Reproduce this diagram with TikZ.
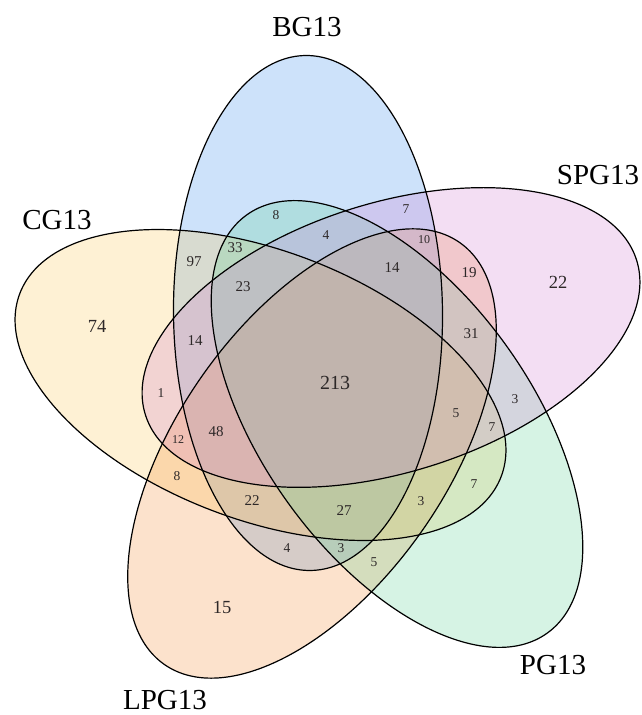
\documentclass[tikz,border=0pt]{standalone}
\usepackage{fontspec}
\setmainfont{Liberation Serif}
\definecolor{cBG}{RGB}{55,139,235}
\definecolor{cSPG}{RGB}{207,123,207}
\definecolor{cPG}{RGB}{91,207,147}
\definecolor{cLPG}{RGB}{243,139,51}
\definecolor{cCG}{RGB}{251,199,83}
\definecolor{numc}{RGB}{45,40,40}
\begin{document}
\begin{tikzpicture}[x=1pt,y=1pt,
  setfill/.style={fill=#1, fill opacity=0.25},
  setline/.style={draw=black, line width=1.2pt},
  numXL/.style={text=numc, inner sep=0pt, font=\fontsize{20}{22}\selectfont},
  numL/.style={text=numc, inner sep=0pt, font=\fontsize{18.5}{20}\selectfont},
  numM/.style={text=numc, inner sep=0pt, font=\fontsize{15}{17}\selectfont},
  numS/.style={text=numc, inner sep=0pt, font=\fontsize{13.5}{15}\selectfont},
  numXS/.style={text=numc, inner sep=0pt, font=\fontsize{12}{14}\selectfont},
  setlabel/.style={text=black, inner sep=0pt, font=\fontsize{29}{31}\selectfont}]
\useasboundingbox (0,0) rectangle (642,715);
\def\ea{257.5}\def\eb{134.5}
% fills (drawing order chosen to match the blended colours)
\fill[setfill=cBG, rotate around={90.5:(308,402)}] (308,402) ellipse [x radius=\ea, y radius=\eb];
\fill[setfill=cCG, rotate around={-20.8:(260.5,330)}] (260.5,330) ellipse [x radius=\ea, y radius=\eb];
\fill[setfill=cLPG, rotate around={55:(312,261.5)}] (312,261.5) ellipse [x radius=\ea, y radius=\eb];
\fill[setfill=cPG, rotate around={-54.3:(397,291)}] (397,291) ellipse [x radius=\ea, y radius=\eb];
\fill[setfill=cSPG, rotate around={17.5:(391,377.5)}] (391,377.5) ellipse [x radius=\ea, y radius=\eb];
% outlines
\draw[setline, rotate around={90.5:(308,402)}] (308,402) ellipse [x radius=\ea, y radius=\eb];
\draw[setline, rotate around={17.5:(391,377.5)}] (391,377.5) ellipse [x radius=\ea, y radius=\eb];
\draw[setline, rotate around={-54.3:(397,291)}] (397,291) ellipse [x radius=\ea, y radius=\eb];
\draw[setline, rotate around={55:(312,261.5)}] (312,261.5) ellipse [x radius=\ea, y radius=\eb];
\draw[setline, rotate around={-20.8:(260.5,330)}] (260.5,330) ellipse [x radius=\ea, y radius=\eb];
% set labels
\node[setlabel] (lBG) at (307,688) {BG13};
\node[setlabel] (lSPG) at (598,540) {SPG13};
\node[setlabel] (lCG) at (57,495) {CG13};
\node[setlabel] (lLPG) at (165,15) {LPG13};
\node[setlabel] (lPG) at (553,50) {PG13};
% counts
\node[numS] (n8a) at (276,500) {8};
\node[numS] (n4a) at (326,480) {4};
\node[numS] (n7a) at (406,506) {7};
\node[numXS] (n10) at (424,475) {10};
\node[numM] (n14a) at (392,447) {14};
\node[numM] (n19) at (469,442) {19};
\node[numM] (n31) at (471,381) {31};
\node[numL] (n22a) at (558,433) {22};
\node[numM] (n33) at (235,467) {33};
\node[numM] (n97) at (194,453) {97};
\node[numM] (n23) at (243,428) {23};
\node[numL] (n74) at (97,389) {74};
\node[numM] (n14b) at (195,374) {14};
\node[numXL] (n213) at (335,332) {213};
\node[numS] (n1) at (161,322) {1};
\node[numXS] (n12) at (178,275) {12};
\node[numM] (n48) at (216,283) {48};
\node[numS] (n8b) at (177,239) {8};
\node[numM] (n22b) at (252,214) {22};
\node[numM] (n27) at (344,204) {27};
\node[numS] (n5a) at (456,302) {5};
\node[numS] (n3a) at (515,316) {3};
\node[numS] (n7b) at (492,288) {7};
\node[numS] (n7c) at (474,231) {7};
\node[numS] (n3b) at (421,214) {3};
\node[numS] (n4b) at (287,167) {4};
\node[numS] (n3c) at (341,167) {3};
\node[numS] (n5b) at (374,153) {5};
\node[numL] (n15) at (222,108) {15};
\end{tikzpicture}
\end{document}
